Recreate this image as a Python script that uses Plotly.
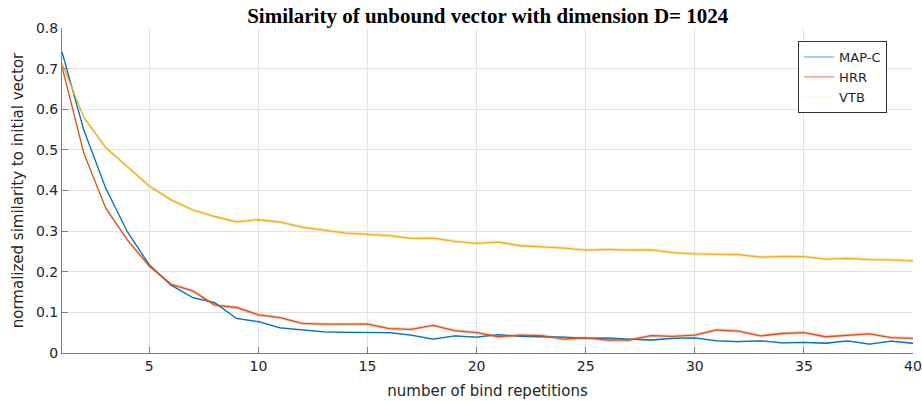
import plotly.graph_objects as go

reps = list(range(1, 41))

map_c = [0.741, 0.549, 0.406, 0.298, 0.217, 0.167, 0.136, 0.124, 0.085, 0.077,
         0.062, 0.057, 0.052, 0.051, 0.051, 0.050, 0.044, 0.034, 0.042, 0.039,
         0.045, 0.041, 0.040, 0.039, 0.036, 0.037, 0.034, 0.032, 0.036, 0.037,
         0.030, 0.028, 0.030, 0.025, 0.026, 0.024, 0.030, 0.022, 0.029, 0.024]

hrr = [0.705, 0.492, 0.357, 0.278, 0.214, 0.169, 0.153, 0.118, 0.112, 0.094,
       0.087, 0.073, 0.071, 0.071, 0.071, 0.060, 0.058, 0.068, 0.055, 0.050,
       0.040, 0.044, 0.043, 0.034, 0.037, 0.032, 0.032, 0.043, 0.041, 0.044,
       0.057, 0.054, 0.042, 0.048, 0.050, 0.040, 0.044, 0.047, 0.038, 0.036]

vtb = [0.713, 0.580, 0.506, 0.459, 0.411, 0.377, 0.352, 0.336, 0.323, 0.328,
       0.322, 0.310, 0.303, 0.295, 0.292, 0.289, 0.282, 0.283, 0.275, 0.270,
       0.273, 0.264, 0.261, 0.258, 0.253, 0.255, 0.253, 0.254, 0.247, 0.244,
       0.243, 0.242, 0.236, 0.238, 0.237, 0.231, 0.233, 0.230, 0.229, 0.227]

# estimated half-width of shaded bands
band = {"MAP-C": 0.002, "HRR": 0.004, "VTB": 0.004}

series = [
    ("MAP-C", map_c, "#0072BD", "rgba(0,114,189,0.25)", "#8ec0e6"),
    ("HRR", hrr, "#D95319", "rgba(217,83,25,0.25)", "#f2a27e"),
    ("VTB", vtb, "#EDB120", "rgba(237,177,32,0.30)", "#fbf8e6"),
]

fig = go.Figure()
for name, vals, col, fillcol, legcol in series:
    h = band[name]
    upper = [v + h for v in vals]
    lower = [v - h for v in vals]
    fig.add_trace(go.Scatter(x=reps + reps[::-1], y=upper + lower[::-1],
                             fill="toself", fillcolor=fillcol, line=dict(width=0),
                             mode="lines", showlegend=False, hoverinfo="skip"))
    fig.add_trace(go.Scatter(x=reps, y=vals, mode="lines", name=name,
                             line=dict(color=col, width=1.3), showlegend=False))

for name, vals, col, fillcol, legcol in series:
    fig.add_trace(go.Scatter(x=[None], y=[None], mode="lines", name=name,
                             line=dict(color=legcol, width=1.5)))

fig.update_layout(
    width=922, height=401,
    margin=dict(l=62, r=9, t=28, b=48, autoexpand=False),
    paper_bgcolor="white", plot_bgcolor="white",
    title=dict(text="<b>Similarity of unbound vector with dimension D= 1024</b>",
               x=0.529, xanchor="center", y=0.96, yanchor="middle",
               font=dict(family="Liberation Serif", size=21, color="black")),
    font=dict(family="DejaVu Sans", size=13, color="#262626"),
    legend=dict(x=0.865, y=0.96, xanchor="left", yanchor="top",
                bgcolor="white", bordercolor="#333333", borderwidth=1,
                font=dict(family="DejaVu Sans", size=13, color="#262626"),
                tracegroupgap=0),
)
fig.update_xaxes(range=[1, 40], tickvals=[5, 10, 15, 20, 25, 30, 35, 40],
                 showgrid=True, gridcolor="#e3e3e3", gridwidth=1,
                 showline=True, linecolor="#7f7f7f", linewidth=1,
                 ticks="inside", ticklen=6, tickcolor="#7f7f7f",
                 zeroline=False, automargin=False,
                 title=dict(text="number of bind repetitions", standoff=12,
                            font=dict(size=15, color="#262626")),
                 tickfont=dict(size=14, color="#262626"))
fig.update_yaxes(range=[0, 0.8], dtick=0.1, tickformat="~g",
                 showgrid=True, gridcolor="#e3e3e3", gridwidth=1,
                 showline=True, linecolor="#7f7f7f", linewidth=1,
                 ticks="inside", ticklen=6, tickcolor="#7f7f7f",
                 zeroline=False, automargin=False,
                 title=dict(text="normalized similarity to initial vector", standoff=8,
                            font=dict(size=15, color="#262626")),
                 tickfont=dict(size=14, color="#262626"))

fig.write_html("out.html", config={"displayModeBar": False},
               post_script="document.body.style.margin='0';document.body.style.overflow='hidden';")
